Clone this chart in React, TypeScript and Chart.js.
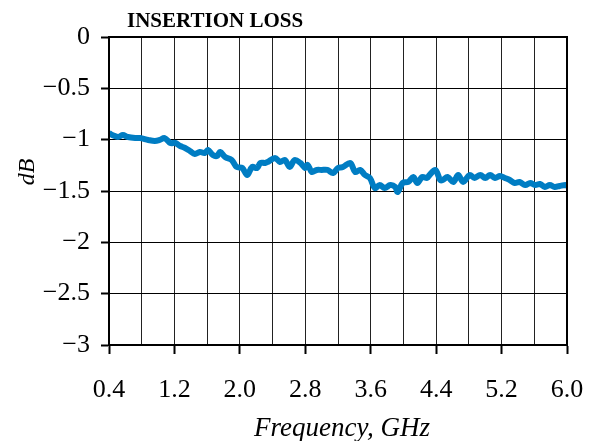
import React, { useEffect, useRef } from "react";
import { Chart, registerables } from "chart.js";

Chart.register(...registerables);

const titleText = "INSERTION LOSS";
const xTitle = "Frequency, GHz";
const yTitle = "dB";

const freqGHz = [
  0.4, 0.44, 0.51, 0.57, 0.63, 0.72, 0.78, 0.88, 0.96, 1.02, 1.08, 1.15, 1.21, 1.27, 1.33, 1.39, 1.45, 1.51,
  1.57, 1.61, 1.67, 1.72, 1.76, 1.82, 1.9, 1.96, 2.03, 2.09, 2.15, 2.21, 2.25, 2.31, 2.34, 2.43, 2.49, 2.55,
  2.61, 2.67, 2.74, 2.8, 2.83, 2.88, 2.94, 3.0, 3.07, 3.14, 3.2, 3.26, 3.35, 3.41, 3.47, 3.53, 3.59, 3.65,
  3.71, 3.77, 3.84, 3.9, 3.93, 3.99, 4.06, 4.12, 4.17, 4.23, 4.29, 4.32, 4.39, 4.45, 4.48, 4.54, 4.61, 4.67,
  4.73, 4.81, 4.87, 4.94, 5.0, 5.06, 5.12, 5.18, 5.24, 5.3, 5.36, 5.42, 5.49, 5.55, 5.61, 5.67, 5.73, 5.79,
  5.85, 5.91, 5.98, 6.0,
];

const lossDb = [
  -0.935, -0.955, -0.974, -0.955, -0.974, -0.984, -0.984, -1.003, -1.013, -1.003, -0.984, -1.032, -1.032,
  -1.062, -1.081, -1.11, -1.14, -1.12, -1.13, -1.101, -1.149, -1.159, -1.12, -1.169, -1.198, -1.266, -1.276,
  -1.344, -1.266, -1.276, -1.227, -1.227, -1.217, -1.179, -1.217, -1.198, -1.266, -1.198, -1.227, -1.276,
  -1.247, -1.315, -1.295, -1.295, -1.295, -1.325, -1.276, -1.266, -1.227, -1.315, -1.295, -1.344, -1.373,
  -1.471, -1.442, -1.471, -1.442, -1.461, -1.51, -1.422, -1.412, -1.364, -1.422, -1.364, -1.373, -1.344,
  -1.295, -1.393, -1.393, -1.364, -1.412, -1.344, -1.412, -1.344, -1.373, -1.344, -1.373, -1.344, -1.373,
  -1.354, -1.373, -1.393, -1.422, -1.412, -1.442, -1.422, -1.442, -1.432, -1.461, -1.442, -1.461, -1.451,
  -1.442, -1.451,
];

const xGridValues = [0.4, 0.8, 1.2, 1.6, 2.0, 2.4, 2.8, 3.2, 3.6, 4.0, 4.4, 4.8, 5.2, 5.6, 6.0];
const xTickLabels = ["0.4", "", "1.2", "", "2.0", "", "2.8", "", "3.6", "", "4.4", "", "5.2", "", "6.0"];
const yTickValues = [0, -0.5, -1, -1.5, -2, -2.5, -3];
const yTickLabels = ["0", "\u22120.5", "\u22121", "\u22121.5", "\u22122", "\u22122.5", "\u22123"];

const SERIF = "'Liberation Serif', 'Times New Roman', serif";

const decorPlugin = {
  id: "decor",
  afterDraw(chart: any) {
    const { ctx, chartArea } = chart;
    ctx.save();
    ctx.strokeStyle = "#000";
    ctx.lineWidth = 2;
    ctx.strokeRect(chartArea.left, chartArea.top, chartArea.right - chartArea.left, chartArea.bottom - chartArea.top);
    ctx.fillStyle = "#000";
    ctx.font = `bold 21px ${SERIF}`;
    ctx.textAlign = "left";
    ctx.textBaseline = "alphabetic";
    ctx.fillText(titleText, 127, 27);
    ctx.font = `italic 27px ${SERIF}`;
    ctx.textAlign = "center";
    ctx.fillText(xTitle, 342, 436);
    ctx.translate(34, 172);
    ctx.rotate(-Math.PI / 2);
    ctx.font = `italic 24px ${SERIF}`;
    ctx.textBaseline = "alphabetic";
    ctx.fillText(yTitle, 0, 0);
    ctx.restore();
  },
};

export default function App() {
  const ref = useRef<HTMLCanvasElement>(null);
  useEffect(() => {
    if (!ref.current) return;
    const chart = new Chart(ref.current, {
      type: "line",
      data: {
        datasets: [
          {
            data: freqGHz.map((f, i) => ({ x: f, y: lossDb[i] })),
            borderColor: "rgb(0,125,195)",
            borderWidth: 6,
            pointRadius: 0,
            tension: 0.35,
            fill: false,
          },
        ],
      },
      plugins: [decorPlugin],
      options: {
        animation: false,
        responsive: false,
        devicePixelRatio: 1,
        layout: { padding: { top: 37, right: 34, bottom: 0, left: 0 } },
        plugins: { legend: { display: false }, tooltip: { enabled: false }, title: { display: false } },
        scales: {
          x: {
            type: "linear",
            min: 0.4,
            max: 6.0,
            afterBuildTicks: (scale: any) => {
              scale.ticks = xGridValues.map((v) => ({ value: v }));
            },
            afterFit: (scale: any) => {
              scale.height = 96;
              scale.paddingLeft = 0;
              scale.paddingRight = 0;
            },
            ticks: {
              autoSkip: false,
              maxRotation: 0,
              padding: 21,
              color: "#000",
              font: { family: SERIF, size: 26 },
              callback: (_v: any, i: number) => xTickLabels[i],
            },
            grid: {
              color: "#222",
              lineWidth: 1,
              tickLength: 9,
              tickColor: (ctx: any) => (ctx.index % 2 === 0 ? "#000" : "rgba(0,0,0,0)"),
              tickWidth: 2,
            },
            border: { display: true, color: "#000", width: 2 },
          },
          y: {
            type: "linear",
            min: -3,
            max: 0,
            afterBuildTicks: (scale: any) => {
              scale.ticks = yTickValues.map((v) => ({ value: v }));
            },
            afterFit: (scale: any) => {
              scale.width = 109;
              scale.paddingTop = 0;
              scale.paddingBottom = 0;
            },
            ticks: {
              autoSkip: false,
              padding: 11,
              color: "#000",
              font: { family: SERIF, size: 26 },
              callback: (_v: any, i: number) => yTickLabels[i],
            },
            grid: { color: "#000", lineWidth: 1, tickLength: 8, tickColor: "#000", tickWidth: 2 },
            border: { display: true, color: "#000", width: 2 },
          },
        },
      },
    });
    return () => chart.destroy();
  }, []);
  return (
    <div style={{ position: "fixed", left: 0, top: 0, width: 601, height: 441, background: "#fff" }}>
      <canvas ref={ref} width={601} height={441} style={{ display: "block" }} />
    </div>
  );
}
